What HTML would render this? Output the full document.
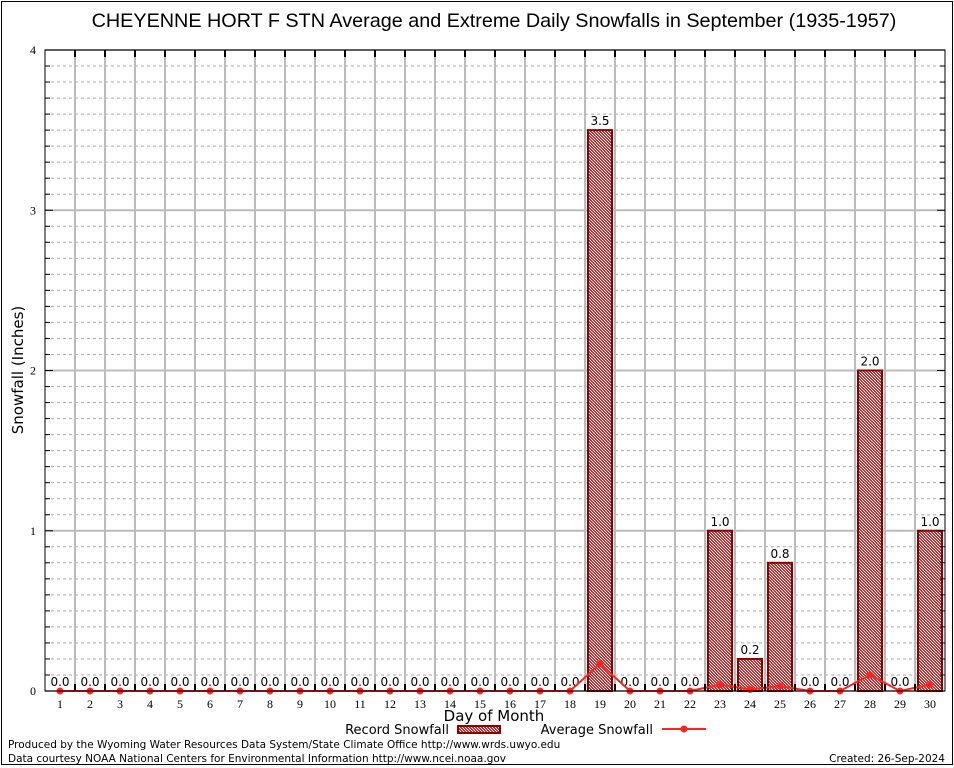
<!DOCTYPE html>
<html><head><meta charset="utf-8"><style>
body{margin:0;background:#fff;}
svg{display:block;font-family:"DejaVu Sans","Liberation Sans",sans-serif;}
</style></head><body>
<svg id="chart" width="954" height="768" viewBox="0 0 954 768">
<defs>
<pattern id="chk" width="3" height="3" patternUnits="userSpaceOnUse">
<rect width="3" height="3" fill="#fff"/><rect width="2" height="1" fill="#c33"/><rect x="1" y="1" width="2" height="1" fill="#c33"/><rect x="0" y="2" width="1" height="1" fill="#c33"/><rect x="2" y="2" width="1" height="1" fill="#c33"/>
</pattern>
</defs>
<rect x="1.5" y="1.5" width="951" height="763" fill="none" stroke="#000"/>
<text x="494" y="27" font-size="19.8" text-anchor="middle" font-family="Liberation Sans, sans-serif">CHEYENNE HORT F STN Average and Extreme Daily Snowfalls in September (1935-1957)</text>
<g id="grid"></g>
<g id="bars"></g>
<g id="avg"></g>
<rect x="45" y="50" width="900" height="641" fill="none" stroke="#000"/>
<g id="axes"></g>
<text x="23" y="370" font-size="15" text-anchor="middle" transform="rotate(-90 23 370)">Snowfall (Inches)</text>
<text x="494" y="721" font-size="15" text-anchor="middle">Day of Month</text>
<g>
<text x="449" y="734" font-size="13" text-anchor="end">Record Snowfall</text>
<rect x="458" y="726" width="42" height="7" fill="url(#chk)" stroke="#8b0000" stroke-width="2"/>
</g>
<g>
<text x="653" y="734" font-size="13" text-anchor="end">Average Snowfall</text>
<line x1="662" y1="729" x2="706" y2="729" stroke="#f22" stroke-width="2"/>
<circle cx="684" cy="729" r="3.5" fill="#f22"/>
</g>
<text x="8" y="748" font-size="10.5">Produced by the Wyoming Water Resources Data System/State Climate Office http://www.wrds.uwyo.edu</text>
<text x="8" y="762" font-size="10.5">Data courtesy NOAA National Centers for Environmental Information http://www.ncei.noaa.gov</text>
<text x="945" y="762" font-size="10.5" text-anchor="end">Created:  26-Sep-2024</text>
</svg>
<script>
const days=[1,2,3,4,5,6,7,8,9,10,11,12,13,14,15,16,17,18,19,20,21,22,23,24,25,26,27,28,29,30];
const records=[0,0,0,0,0,0,0,0,0,0,0,0,0,0,0,0,0,0,3.5,0,0,0,1.0,0.2,0.8,0,0,2.0,0,1.0];
const averages=[0,0,0,0,0,0,0,0,0,0,0,0,0,0,0,0,0,0,0.17,0,0,0,0.04,0.01,0.03,0,0,0.1,0,0.04];
const yTicks=[0,1,2,3,4];
const NS="http://www.w3.org/2000/svg";
const X=d=>60+(d-1)*30;
const Y=v=>691-v*160.25;
function mk(t,a,p){const e=document.createElementNS(NS,t);for(const k in a)e.setAttribute(k,a[k]);p.appendChild(e);return e;}
const grid=document.getElementById('grid'),bars=document.getElementById('bars'),avg=document.getElementById('avg'),axes=document.getElementById('axes');
for(let i=1;i<40;i++){const v=i/10;if(i%10===0)continue;
const l=mk('line',{x1:45,x2:945,y1:Y(v),y2:Y(v),stroke:'#aaa','stroke-dasharray':'3,3'},grid);

mk('line',{x1:45,x2:50,y1:Y(v),y2:Y(v),stroke:'#000'},axes);mk('line',{x1:940,x2:945,y1:Y(v),y2:Y(v),stroke:'#000'},axes);}
yTicks.forEach(v=>{const l=mk('line',{x1:45,x2:945,y1:Y(v),y2:Y(v),stroke:'#bbb','stroke-width':2},grid);

mk('line',{x1:45,x2:53,y1:Y(v),y2:Y(v),stroke:'#000'},axes);mk('line',{x1:937,x2:945,y1:Y(v),y2:Y(v),stroke:'#000'},axes);
const t=mk('text',{x:36,y:Y(v)+4,'font-size':12,'text-anchor':'end','font-family':'Liberation Serif, serif'},axes);t.textContent=v;
});
for(let d=1;d<30;d++){const x=X(d)+15;const l=mk('line',{x1:x,x2:x,y1:50,y2:691,stroke:'#bbb','stroke-width':2},grid);

mk('line',{x1:x,x2:x,y1:50,y2:57,stroke:'#000','stroke-width':2},axes);mk('line',{x1:x,x2:x,y1:684,y2:691,stroke:'#000','stroke-width':2},axes);}
days.forEach((d,i)=>{const v=records[i];
if(v>0){const b=mk('rect',{x:X(d)-12,y:Y(v),width:24,height:Y(0)-Y(v),fill:'url(#chk)',stroke:'#8b0000','stroke-width':2},bars);
}
const t=mk('text',{x:X(d),y:Y(v)-5,'font-size':12,'text-anchor':'middle'},bars);t.textContent=v.toFixed(1);

const xl=mk('text',{x:X(d),y:708,'font-size':12,'text-anchor':'middle','font-family':'Liberation Serif, serif'},axes);xl.textContent=d;
});
const pl=mk('polyline',{points:days.map((d,i)=>X(d)+','+Y(averages[i])).join(' '),fill:'none',stroke:'#f22','stroke-width':2},avg);

days.forEach((d,i)=>{const c=mk('circle',{cx:X(d),cy:Y(averages[i]),r:3.5,fill:'#f22'},avg);
});
</script>
</body></html>
